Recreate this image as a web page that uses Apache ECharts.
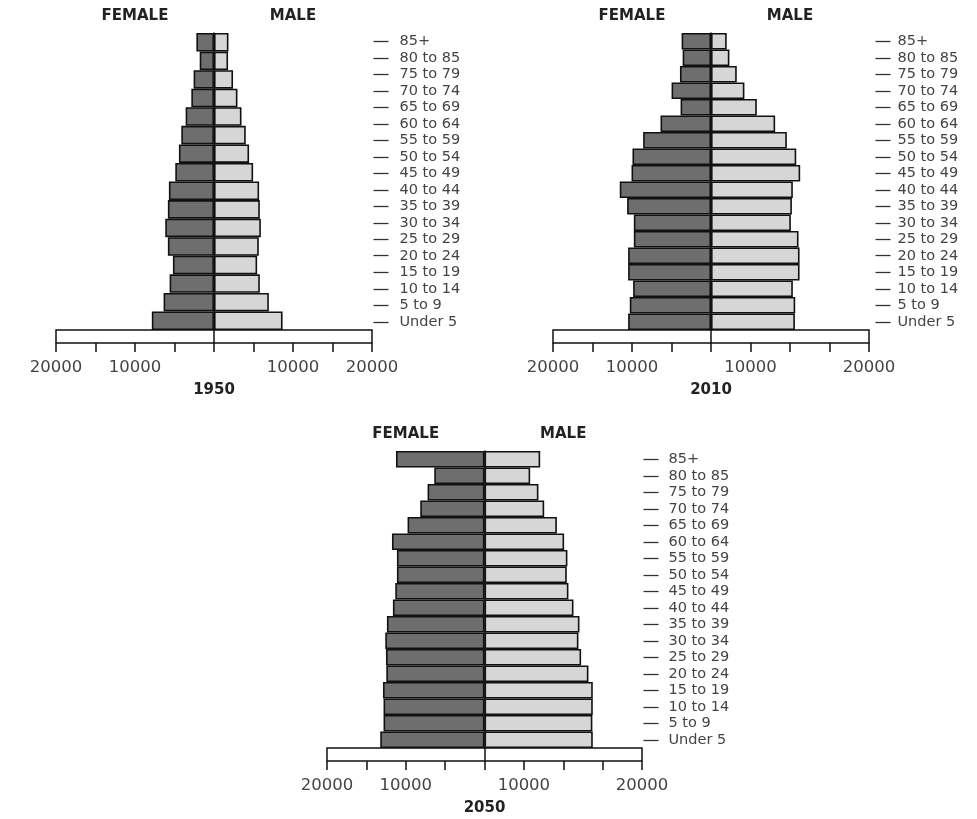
<!DOCTYPE html>
<html><head><meta charset="utf-8">
<script src="https://cdn.jsdelivr.net/npm/echarts@6/dist/echarts.min.js"></script>
<style>html,body{margin:0;padding:0;background:#fff}#c{width:977px;height:819px}</style>
</head><body><div id="c"></div>
<script>
// ---- data ----
const ageLabels = ['85+','80 to 85','75 to 79','70 to 74','65 to 69','60 to 64','55 to 59','50 to 54','45 to 49','40 to 44','35 to 39','30 to 34','25 to 29','20 to 24','15 to 19','10 to 14','5 to 9','Under 5'];
// the 1950 pyramid in the source is drawn with 16 bands (top to bottom)
const bands1950 = ['b1','b2','b3','b4','b5','b6','b7','b8','b9','b10','b11','b12','b13','b14','b15','b16'];
const female1950 = [2230,1810,2580,2870,3590,4140,4440,4900,5710,5840,6170,5840,5200,5620,6380,7870];
const male1950   = [1830,1780,2410,2970,3480,4020,4440,4950,5710,5800,5930,5670,5460,5800,6940,8680];
const female2010 = [3720,3590,3930,4990,3850,6390,8590,9940,10060,11550,10620,9770,9770,10490,10490,9860,10280,10490];
const male2010   = [1990,2330,3260,4230,5800,8120,9600,10790,11290,10360,10240,10110,11080,11210,11210,10360,10660,10620];
const female2050 = [11240,6380,7230,8160,9770,11750,11120,11120,11330,11630,12390,12600,12510,12470,12890,12820,12820,13240];
const male2050   = [7070,5800,6850,7580,9190,10110,10530,10450,10660,11300,12060,11930,12270,13200,13750,13750,13700,13750];
const tickText = ['20000','10000','10000','20000'];
const tickVals1950 = [-20000,-10000,10000,20000];
const tickVals2010 = [-20000,-10000,5000,20000];
const tickVals2050 = [-20000,-10000,5000,20000];

// ---- layout ----
const panels = [
  {year:'1950', cats:bands1950, female:female1950, male:male1950, tv:tickVals1950, left:56, top:33, width:316, offset:1.5, margin:26},
  {year:'2010', cats:ageLabels, female:female2010, male:male2010, tv:tickVals2010, left:553, top:33, width:316, offset:6.5, margin:22},
  {year:'2050', cats:ageLabels, female:female2050, male:male2050, tv:tickVals2050, left:327, top:451, width:315, offset:1.5, margin:25}
];
const H = 297, BOX = 13;
const FONT = 'DejaVu Sans';
const grid = [], xAxis = [], yAxis = [], series = [], graphic = [];
panels.forEach((p, i) => {
  grid.push({left:p.left, top:p.top, width:p.width, height:H});
  grid.push({left:p.left, top:p.top + H, width:p.width, height:BOX, show:true, borderColor:'#111', borderWidth:1.5, backgroundColor:'#fff'});
  xAxis.push({gridIndex:2*i, type:'value', min:-20000, max:20000, show:false});
  xAxis.push({gridIndex:2*i+1, type:'value', min:-20000, max:20000, interval:5000,
    axisLine:{show:false}, splitLine:{show:false},
    axisTick:{show:true, length:9, lineStyle:{color:'#111', width:1.5}},
    axisLabel:{margin:16, fontSize:16.5, color:'#444', fontFamily:FONT,
      formatter: v => { const k = p.tv.indexOf(v); return k >= 0 ? tickText[k] : ''; }}});
  yAxis.push({gridIndex:2*i, type:'category', data:p.cats, inverse:true,
    axisLine:{show:true, onZero:true, lineStyle:{color:'#111', width:1.5}},
    axisTick:{show:false}, axisLabel:{show:false}, splitLine:{show:false}});
  yAxis.push({gridIndex:2*i, type:'category', data:ageLabels, inverse:true, position:'right', offset:p.offset,
    axisLine:{show:false, onZero:false},
    axisTick:{show:true, alignWithLabel:true, interval:0, length:15, lineStyle:{color:'#333', width:1.3}},
    axisLabel:{interval:0, margin:p.margin, fontSize:14.5, color:'#444', fontFamily:FONT},
    splitLine:{show:false}});
  yAxis.push({gridIndex:2*i+1, type:'value', min:0, max:1,
    axisLine:{show:true, onZero:true, lineStyle:{color:'#111', width:1.5}},
    axisTick:{show:false}, axisLabel:{show:false}, splitLine:{show:false}});
  series.push({type:'bar', name:'FEMALE', xAxisIndex:2*i, yAxisIndex:3*i, data:p.female.map(v => -v),
    barGap:'-100%', barCategoryGap:0, silent:true,
    itemStyle:{color:'#6e6e6e', borderColor:'#111', borderWidth:1.6}});
  series.push({type:'bar', name:'MALE', xAxisIndex:2*i, yAxisIndex:3*i, data:p.male,
    barGap:'-100%', barCategoryGap:0, silent:true,
    itemStyle:{color:'#d6d6d6', borderColor:'#111', borderWidth:1.6}});
  const cx = p.left + p.width / 2;
  const mk = (text, x, y) => ({type:'text', x:x, y:y, silent:true,
    style:{text:text, font:'bold 15px "' + FONT + '"', fill:'#222', align:'center', verticalAlign:'middle', textAlign:'center', textVerticalAlign:'middle'}});
  graphic.push(mk('FEMALE', cx - p.width / 4, p.top - 17));
  graphic.push(mk('MALE', cx + p.width / 4, p.top - 17));
  graphic.push(mk(p.year, cx, p.top + H + 60));
});

const chart = echarts.init(document.getElementById('c'), null, {renderer:'canvas'});
chart.setOption({animation:false, backgroundColor:'#fff', grid, xAxis, yAxis, series, graphic});
</script>
</body></html>
